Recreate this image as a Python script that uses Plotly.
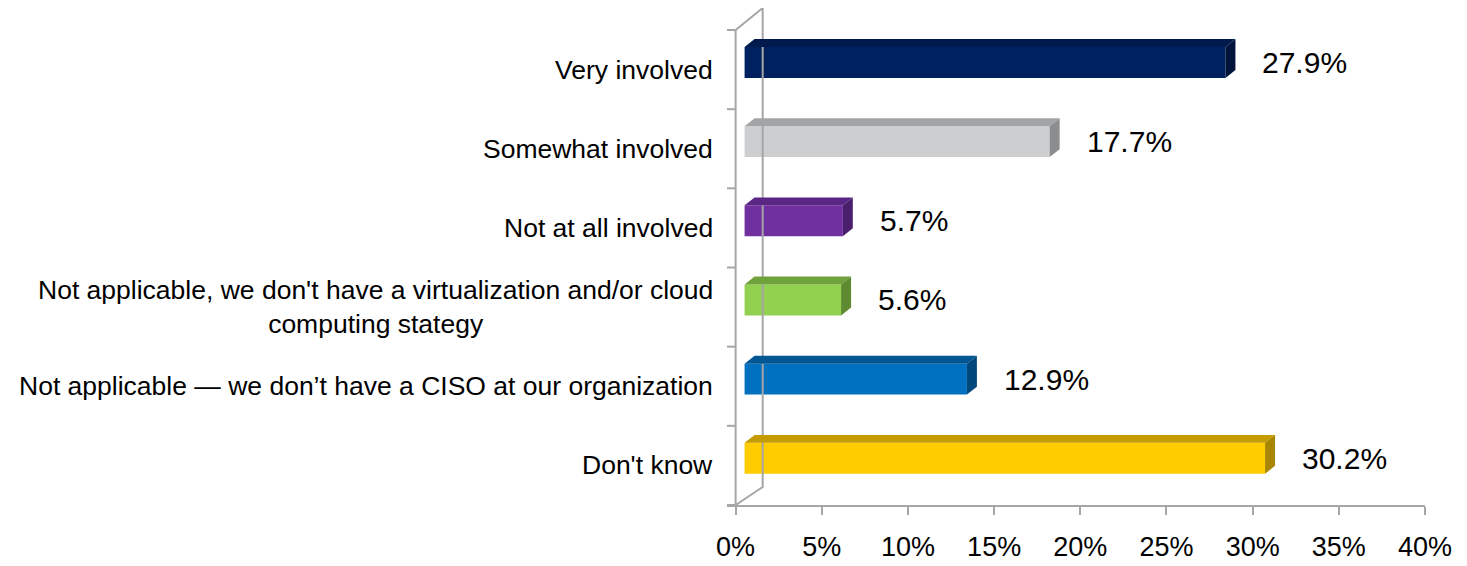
import plotly.graph_objects as go

# ---------------- data ----------------
categories = [
    "Very involved",
    "Somewhat involved",
    "Not at all involved",
    "Not applicable, we don't have a virtualization and/or cloud<br>computing stategy",
    "Not applicable — we don’t have a CISO at our organization",
    "Don't know",
]
values = [27.9, 17.7, 5.7, 5.6, 12.9, 30.2]
value_labels = ["27.9%", "17.7%", "5.7%", "5.6%", "12.9%", "30.2%"]
front_colors = ["#00215F", "#CDCED0", "#7030A0", "#92D050", "#0070C0", "#FFCC00"]
top_colors = ["#001A4E", "#A3A4A6", "#5A2684", "#70A23C", "#005593", "#C49C00"]
side_colors = ["#00143C", "#8C8D8F", "#4B1F6E", "#5E8A32", "#00477C", "#A88600"]
x_ticks = [0, 5, 10, 15, 20, 25, 30, 35, 40]
x_tick_labels = ["0%", "5%", "10%", "15%", "20%", "25%", "30%", "35%", "40%"]

# ---------------- 3-D styling constants (data units) ----------------
BASE = 0.52        # bar front face offset into the depth
DX, DY = 0.58, 0.10  # bar depth
BAR_W = 0.39
BAR_SHIFT = 0.09
WALL_DX = 1.57
WALL_TOP = -0.778
WALL_BOTTOM = 5.273
Y_TOP, Y_BOTTOM = -0.5, 5.5
AXIS_GRAY = "#A6A6A6"
FONT = "Liberation Sans, Arial, sans-serif"

n = len(categories)
ypos = [i - BAR_SHIFT for i in range(n)]

fig = go.Figure()

# back wall + floor/ceiling edges
fig.add_trace(go.Scatter(
    x=[0, WALL_DX, WALL_DX, 0],
    y=[Y_TOP, WALL_TOP, WALL_BOTTOM, Y_BOTTOM],
    mode="lines", line=dict(color=AXIS_GRAY, width=2), hoverinfo="skip"))

# front vertical axis with tick marks
fx, fy = [0, 0], [Y_TOP, Y_BOTTOM]
for k in range(n + 1):
    b = Y_TOP + k
    fx += [None, -0.5, 0]
    fy += [None, b, b]
fig.add_trace(go.Scatter(x=fx, y=fy, mode="lines",
                         line=dict(color=AXIS_GRAY, width=2), hoverinfo="skip"))

# bar front faces
fig.add_trace(go.Bar(
    x=values, y=ypos, base=BASE, orientation="h", width=BAR_W,
    marker=dict(color=front_colors, line=dict(width=0)), hoverinfo="skip"))

# top and side faces
for i, v in enumerate(values):
    yt = ypos[i] - BAR_W / 2
    yb = ypos[i] + BAR_W / 2
    x0, x1 = BASE, BASE + v
    fig.add_trace(go.Scatter(
        x=[x0, x1, x1 + DX, x0 + DX, x0],
        y=[yt, yt, yt - DY, yt - DY, yt],
        mode="lines", fill="toself", fillcolor=top_colors[i],
        line=dict(width=0, color=top_colors[i]), hoverinfo="skip"))
    fig.add_trace(go.Scatter(
        x=[x1, x1 + DX, x1 + DX, x1, x1],
        y=[yt, yt - DY, yb - DY, yb, yt],
        mode="lines", fill="toself", fillcolor=side_colors[i],
        line=dict(width=0, color=side_colors[i]), hoverinfo="skip"))

annotations = []
for i, c in enumerate(categories):
    annotations.append(dict(
        x=-0.5, y=i, xref="x", yref="y", text=c, showarrow=False,
        xanchor="right", yanchor="middle", xshift=-12, align="center",
        font=dict(family=FONT, size=26.5, color="#000000")))
for i, v in enumerate(values):
    annotations.append(dict(
        x=BASE + v, y=ypos[i], xref="x", yref="y", text=value_labels[i],
        showarrow=False, xanchor="left", yanchor="middle", xshift=35,
        font=dict(family=FONT, size=30, color="#000000")))

fig.update_layout(
    width=1467, height=566,
    margin=dict(l=719, r=50, t=0, b=69),
    paper_bgcolor="white", plot_bgcolor="white",
    showlegend=False, hovermode=False, barmode="overlay",
    annotations=annotations,
    xaxis=dict(range=[-0.5, 40], tickvals=x_ticks, ticktext=x_tick_labels,
               ticks="outside", ticklen=8, tickcolor=AXIS_GRAY, tickwidth=2,
               showline=True, linecolor=AXIS_GRAY, linewidth=2,
               showgrid=False, zeroline=False, ticklabelstandoff=9,
               tickfont=dict(family=FONT, size=27, color="#000000")),
    yaxis=dict(range=[Y_BOTTOM, WALL_TOP], showticklabels=False,
               showgrid=False, zeroline=False, showline=False, ticks=""),
)

fig.write_html("out.html")
